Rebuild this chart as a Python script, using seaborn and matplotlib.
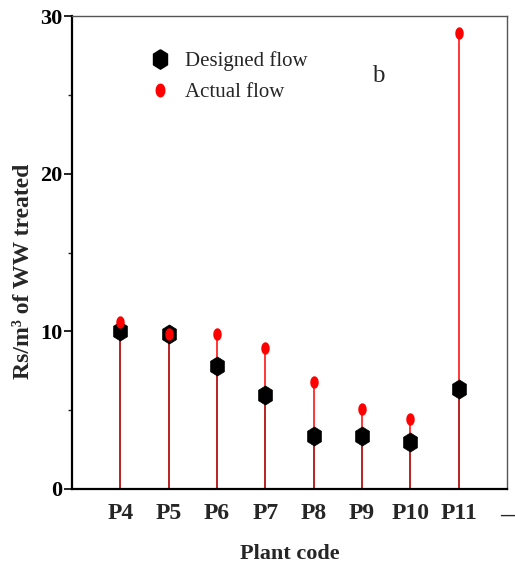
import matplotlib
matplotlib.use("Agg")
import matplotlib.pyplot as plt
import seaborn as sns
import pandas as pd
import numpy as np
from matplotlib.lines import Line2D

plants = ["P4", "P5", "P6", "P7", "P8", "P9", "P10", "P11"]
designed = [10.0, 9.86, 7.8, 5.96, 3.38, 3.38, 3.0, 6.37]
actual = [10.58, 9.86, 9.86, 8.94, 6.77, 5.06, 4.46, 28.92]
xtick_labels = plants + ["–"]

sns.set_theme(style="white")
plt.rcParams['font.family'] = ['Liberation Serif', 'DejaVu Serif']

pos = list(range(1, len(plants) + 1))
df = pd.DataFrame({"pos": pos, "plant": plants, "designed": designed, "actual": actual})

hexv = [(0, 1), (0.72, 0.55), (0.72, -0.55), (0, -1), (-0.72, -0.55), (-0.72, 0.55), (0, 1)]
t = np.linspace(0, 2 * np.pi, 40)
ellv = list(zip(0.68 * np.cos(t), np.sin(t)))

fig = plt.figure(figsize=(5.15, 5.72), dpi=100)
ax = fig.add_axes([72/515, 83/572, 435/515, 473/572])

ax.vlines(df["pos"], 0, df["actual"], color="#ff0000", lw=1.1, zorder=1)
ax.vlines(df["pos"], 0, df["designed"], color="#6a1010", lw=1.1, alpha=0.6, zorder=2)

sns.scatterplot(data=df, x="pos", y="designed", marker=hexv, s=190, color="black",
                edgecolor="black", linewidth=0.5, ax=ax, zorder=3, legend=False)
sns.scatterplot(data=df, x="pos", y="actual", marker=ellv, s=80, color="#ff0000",
                edgecolor="#ff0000", linewidth=0, ax=ax, zorder=4, legend=False)

ax.set_xlim(0, 9)
ax.set_ylim(0, 30)
ax.set_xticks(range(1, 10))
ax.set_xticklabels(xtick_labels, fontsize=17, fontweight="bold")
ax.get_xticklabels()[-1].set_fontsize(20)
ax.set_yticks([0, 10, 20, 30])
ax.set_yticks([5, 15, 25], minor=True)
ax.set_yticklabels(["0", "10", "20", "30"], fontsize=16, fontweight="bold")
ax.tick_params(axis="y", which="major", direction="out", length=6, width=1.2, left=True, pad=1, colors="black")
ax.tick_params(axis="y", which="minor", direction="out", length=3, width=1, left=True)
ax.tick_params(axis="x", which="major", length=0, pad=10)

for s in ["left", "bottom"]:
    ax.spines[s].set_color("black")
    ax.spines[s].set_linewidth(1.6)
for s in ["top", "right"]:
    ax.spines[s].set_color("#555555")
    ax.spines[s].set_linewidth(1.0)

ax.set_xlabel("Plant code", fontsize=16, fontweight="bold")
ax.xaxis.set_label_coords(0.5, -0.117)
ax.set_ylabel("Rs/m³ of WW treated", fontsize=17, fontweight="bold")
ax.yaxis.set_label_coords(-0.087, 0.46)

handles = [
    Line2D([], [], marker=hexv, color="black", ls="none", markersize=14),
    Line2D([], [], marker=ellv, color="#ff0000", ls="none", markersize=9),
]
ax.legend(handles, ["Designed flow", "Actual flow"], loc="upper left",
          bbox_to_anchor=(0.12, 0.965), frameon=False, fontsize=15,
          handletextpad=0.4, labelspacing=0.55, handlelength=1.6)

ax.text(0.69, 0.86, "b", transform=ax.transAxes, fontsize=18)

fig.savefig("out.png", dpi=100)
